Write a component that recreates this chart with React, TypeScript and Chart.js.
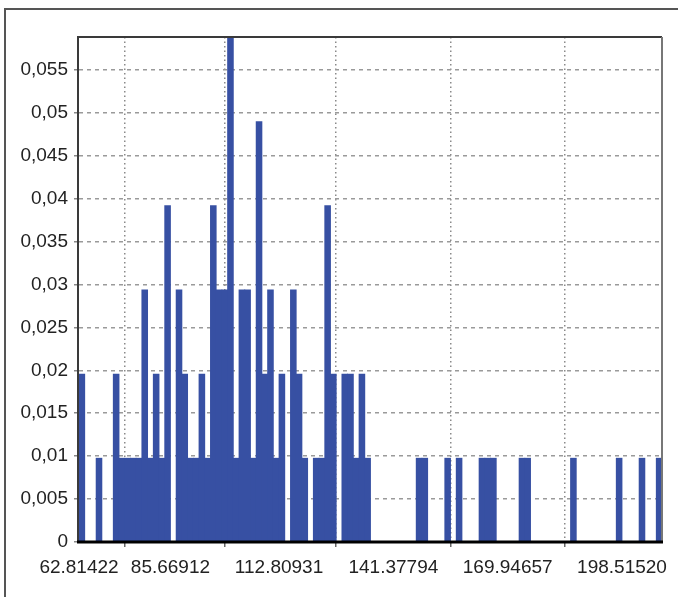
import React, { useEffect, useRef } from "react";
import { Chart, registerables } from "chart.js";

Chart.register(...registerables);

// Histogram: first bin edge, bin width, sample size and counts per bin
const binStart = 62.81422;
const binWidth = 1.428431;
const sampleSize = 102;
const binCounts = [
  2, 0, 0, 1, 0, 0, 2, 1, 1, 1,
  1, 3, 1, 2, 1, 4, 0, 3, 2, 1,
  1, 2, 1, 4, 3, 3, 6, 1, 3, 3,
  1, 5, 2, 3, 1, 2, 0, 3, 2, 1,
  0, 1, 1, 4, 2, 0, 2, 2, 1, 2,
  1, 0, 0, 0, 0, 0, 0, 0, 0, 1,
  1, 0, 0, 0, 1, 0, 1, 0, 0, 0,
  1, 1, 1, 0, 0, 0, 0, 1, 1, 0,
  0, 0, 0, 0, 0, 0, 1, 0, 0, 0,
  0, 0, 0, 0, 1, 0, 0, 0, 1, 0,
  0, 1,
];

const xTicks = [62.81422, 85.66912, 112.80931, 141.37794, 169.94657, 198.5152];
const yTicks = [0, 0.005, 0.01, 0.015, 0.02, 0.025, 0.03, 0.035, 0.04, 0.045, 0.05, 0.055];

const BAR_COLOR = "#3750a3";
const FONT = { family: "'Liberation Sans', Arial, sans-serif", size: 19 };

export default function App() {
  const ref = useRef<HTMLCanvasElement>(null);

  useEffect(() => {
    if (!ref.current) return;
    const frame = {
      id: "frame",
      afterDraw(chart: any) {
        const { ctx, chartArea: a } = chart;
        ctx.save();
        // outer picture frame
        ctx.strokeStyle = "#555";
        ctx.lineWidth = 2;
        ctx.beginPath();
        ctx.moveTo(5, 597);
        ctx.lineTo(5, 9);
        ctx.lineTo(678, 9);
        ctx.stroke();
        // plot frame
        ctx.strokeStyle = "#3a3a3a";
        ctx.lineWidth = 2;
        ctx.beginPath();
        ctx.moveTo(a.left - 1, a.bottom);
        ctx.lineTo(a.left - 1, a.top);
        ctx.lineTo(a.right, a.top);
        ctx.stroke();
        ctx.strokeStyle = "#777";
        ctx.beginPath();
        ctx.moveTo(a.right, a.top);
        ctx.lineTo(a.right, a.bottom);
        ctx.stroke();
        ctx.strokeStyle = "#000";
        ctx.lineWidth = 3;
        ctx.beginPath();
        ctx.moveTo(a.left - 2, a.bottom);
        ctx.lineTo(a.right + 1, a.bottom);
        ctx.stroke();
        ctx.restore();
      },
    };

    const data = binCounts.map((c, i) => ({
      x: binStart + (i + 0.5) * binWidth,
      y: c / sampleSize,
    }));

    const chart = new Chart(ref.current, {
      type: "bar",
      data: {
        datasets: [
          {
            data,
            backgroundColor: BAR_COLOR,
            borderWidth: 0,
            barPercentage: 1.15,
            categoryPercentage: 1,
          } as any,
        ],
      },
      options: {
        animation: false,
        responsive: false,
        maintainAspectRatio: false,
        layout: { padding: { top: 37, right: 16, left: 0, bottom: 0 } },
        plugins: { legend: { display: false }, tooltip: { enabled: false } },
        scales: {
          x: {
            type: "linear",
            offset: false,
            min: binStart,
            max: binStart + binCounts.length * binWidth,
            afterBuildTicks: (s: any) => {
              s.ticks = xTicks.map((v) => ({ value: v }));
            },
            afterFit: (s: any) => {
              s.height = 55;
            },
            ticks: {
              callback: (v: any) => Number(v).toFixed(5),
              font: FONT,
              color: "#222",
              padding: 9,
              maxRotation: 0,
              autoSkip: false,
            },
            grid: { color: "#8a8a8a", lineWidth: 1.5, tickLength: 5, tickColor: "#666" },
            border: { display: false, dash: [1.5, 3] },
          },
          y: {
            min: 0,
            max: 6 / sampleSize,
            afterBuildTicks: (s: any) => {
              s.ticks = yTicks.map((v) => ({ value: v }));
            },
            afterFit: (s: any) => {
              s.width = 79;
            },
            ticks: {
              callback: (v: any) =>
                v === 0 ? "0" : String(+Number(v).toFixed(3)).replace(".", ","),
              font: FONT,
              color: "#222",
              padding: 6,
            },
            grid: { color: "#9a9a9a", lineWidth: 1.5, tickLength: 5, tickColor: "#888" },
            border: { display: false, dash: [4, 4] },
          },
        },
      },
      plugins: [frame],
    });
    return () => chart.destroy();
  }, []);

  return (
    <div style={{ position: "fixed", left: 0, top: 0, width: 678, height: 597, background: "#fff" }}>
      <canvas ref={ref} width={678} height={597} style={{ display: "block" }} />
    </div>
  );
}
